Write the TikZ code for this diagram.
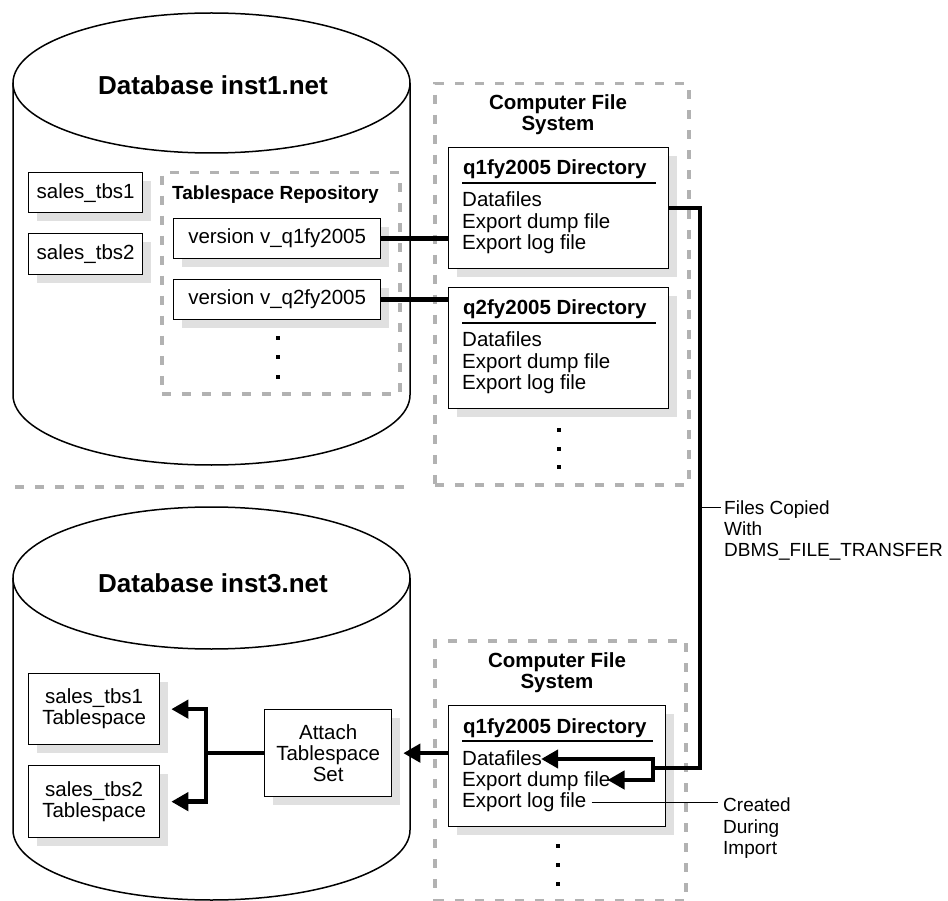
\documentclass[tikz,border=0pt]{standalone}
\usepackage{fontspec}
\setmainfont{Liberation Sans}
\usetikzlibrary{arrows.meta,shadows}
\newcommand\regf{\fontsize{20.5}{21}\selectfont}
\newcommand\bldf{\fontsize{20.5}{21}\selectfont\bfseries}
\newcommand\lblf{\fontsize{19}{21}\selectfont}
\begin{document}
\begin{tikzpicture}[x=1pt,y=-1pt,
  box/.style={draw, line width=1.3pt, fill=white,
    drop shadow={shadow xshift=8pt, shadow yshift=-8pt, fill=black!12, opacity=1},
    inner sep=0pt, anchor=north west, align=center, font=\regf},
  dbox/.style={draw=black!30, line width=3.5pt, dash pattern=on 9pt off 11pt},
  dcont/.style={dbox, anchor=north west, inner sep=0pt},
  cyl/.style={draw, line width=1.5pt, fill=white},
  conn/.style={line width=4.5pt},
  arr/.style={line width=4.5pt, -{Triangle[length=17pt,width=18pt]}},
  lead/.style={line width=1pt},
  txt/.style={inner sep=0pt, font=\regf, anchor=base west},
  btxt/.style={inner sep=0pt, font=\bldf, anchor=base west},
  lbl/.style={inner sep=0pt, font=\lblf, anchor=base west},
  sqdot/.style={fill=black, minimum size=4pt, inner sep=0pt}
]
\useasboundingbox (0,0) rectangle (948,901);

% ---------- top cylinder ----------
\draw[cyl] (13,83) -- (13,395) arc[start angle=180, end angle=0, x radius=198.5, y radius=70] -- (410,83);
\draw[cyl] (211.5,83) ellipse [x radius=198.5, y radius=70];
\node[font=\fontsize{26}{28}\selectfont\bfseries] (db1) at (213,85) {Database inst1.net};

\node[box, minimum width=114, minimum height=40] (s1) at (28,172) {sales\_tbs1};
\node[box, minimum width=114, minimum height=41] (s2) at (28,233) {sales\_tbs2};

\node[dcont, minimum width=238, minimum height=221] (repo) at (160,171) {};
\node[btxt, font=\fontsize{19}{20}\selectfont\bfseries] (repot) at (172,200) {Tablespace Repository};
\node[box, minimum width=207, minimum height=40] (v1) at (173,218) {version v\_q1fy2005};
\node[box, minimum width=207, minimum height=40] (v2) at (173,279) {version v\_q2fy2005};
\node[sqdot] (rd1) at (278,338) {};
\node[sqdot] (rd2) at (278,357) {};
\node[sqdot] (rd3) at (278,377) {};

% ---------- top file system ----------
\node[dcont, minimum width=254, minimum height=401] (cfs1) at (433,82) {};
\node[btxt, anchor=base] (cfs1a) at (558,110) {Computer File};
\node[btxt, anchor=base] (cfs1b) at (558,131) {System};

\node[box, minimum width=220, minimum height=121] (q1) at (448,147) {};
\node[btxt] (q1t) at (463,175) {q1fy2005 Directory};
\draw[line width=1.3pt] (462,183) -- (656,183);
\node[txt] (q1d) at (462,207) {Datafiles};
\node[txt] (q1e) at (462,228.5) {Export dump file};
\node[txt] (q1l) at (462,249.5) {Export log file};

\node[box, minimum width=220, minimum height=121] (q2) at (448,287) {};
\node[btxt] (q2t) at (463,315) {q2fy2005 Directory};
\draw[line width=1.3pt] (462,323) -- (656,323);
\node[txt] (q2d) at (462,347) {Datafiles};
\node[txt] (q2e) at (462,368.5) {Export dump file};
\node[txt] (q2l) at (462,389.5) {Export log file};

\node[sqdot] (cd1) at (559,430) {};
\node[sqdot] (cd2) at (559,449) {};
\node[sqdot] (cd3) at (559,467) {};

% ---------- separator ----------
\draw[dbox] (15,487) -- (410,487);

% ---------- bottom cylinder ----------
\draw[cyl] (13,578) -- (13,830) arc[start angle=180, end angle=0, x radius=198.5, y radius=70] -- (410,578);
\draw[cyl] (211.5,578) ellipse [x radius=198.5, y radius=71];
\node[font=\fontsize{26}{28}\selectfont\bfseries] (db3) at (213,583) {Database inst3.net};

\node[box, minimum width=131, minimum height=71] (t1) at (28,673) {sales\_tbs1\\Tablespace};
\node[box, minimum width=131, minimum height=72] (t2) at (28,765) {sales\_tbs2\\Tablespace};
\node[box, minimum width=127, minimum height=87] (att) at (264,709) {Attach\\Tablespace\\Set};

% ---------- bottom file system ----------
\node[dcont, minimum width=251, minimum height=260] (cfs2) at (433,639) {};
\node[btxt, anchor=base] (cfs2a) at (557,667) {Computer File};
\node[btxt, anchor=base] (cfs2b) at (557,688) {System};

\node[box, minimum width=217, minimum height=121] (q1b) at (448,705) {};
\node[btxt] (q1bt) at (463,733) {q1fy2005 Directory};
\draw[line width=1.3pt] (462,741) -- (653,741);
\node[txt] (bd) at (462,765) {Datafiles};
\node[txt] (be) at (462,786.5) {Export dump file};
\node[txt] (bl) at (462,807.5) {Export log file};

\node[sqdot] (bd1) at (558,846) {};
\node[sqdot] (bd2) at (558,865) {};
\node[sqdot] (bd3) at (558,884) {};

% ---------- labels ----------
\node[lbl] (fc1) at (724,514) {Files Copied};
\node[lbl] (fc2) at (724,535) {With};
\node[lbl] (fc3) at (724,556) {DBMS\_FILE\_TRANSFER};
\node[lbl] (cr1) at (723,811.5) {Created};
\node[lbl] (cr2) at (723,833) {During};
\node[lbl] (cr3) at (723,854) {Import};

% ---------- connectors ----------
\draw[conn] (v1.east) -- (v1.east -| q1.west);
\draw[conn] (v2.east) -- (v2.east -| q2.west);

\coordinate (cr) at (700,768);
\coordinate (br) at (653,768);
\coordinate (bt) at (653,759);
\coordinate (bb) at (653,780);
\draw[conn] (q1.east) -| (cr) -- (br);
\draw[arr, shorten >=-1pt] (br) |- (bd.east |- bt);
\draw[arr, shorten >=-3pt] (br) |- (be.east |- bb);

\coordinate (fcj) at (700,507);
\draw[lead, shorten >=3pt] (fcj) -- (fcj -| fc1.west);
\draw[lead, shorten <=5pt, shorten >=5pt] (bl.east) -- (bl.east -| cr1.west);

\draw[arr] (q1b.west |- att.east) -- ([xshift=11pt]att.east);
\coordinate (fkx) at (206,0);
\draw[conn] (att.west) -- (att.west -| fkx);
\draw[arr] (att.west -| fkx) |- ([xshift=11pt]t1.east);
\draw[arr] (att.west -| fkx) |- ([xshift=11pt]t2.east);
\end{tikzpicture}
\end{document}
